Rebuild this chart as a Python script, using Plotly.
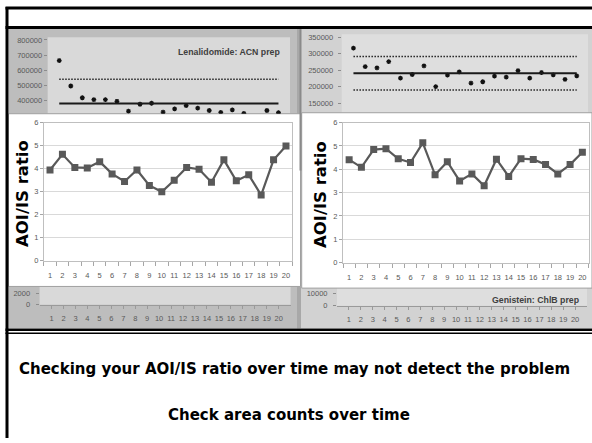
import plotly.graph_objects as go

W, H = 592, 443

# ---------------- data ----------------
RUNS = list(range(1, 21))

LEN_AREA = [663600, 494800, 417000, 404000, 404000, 393500, 328600, 374000, 380500, 322000,
            343500, 365000, 348000, 332500, 319500, 337000, 313000, 280000, 332500, 317500]
LEN_MEAN = 379000
LEN_UPPER = 540000

GEN_AREA = [317000, 261000, 257000, 276000, 226000, 237000, 263000, 200000, 235000, 245000,
            211000, 215000, 232000, 229000, 249000, 226000, 243000, 236000, 222000, 233000]
GEN_MEAN = 241000
GEN_UPPER = 291500
GEN_LOWER = 190000

LEN_RATIO = [3.94, 4.62, 4.05, 4.03, 4.30, 3.77, 3.44, 3.94, 3.27, 2.99,
             3.49, 4.05, 3.97, 3.41, 4.38, 3.47, 3.73, 2.85, 4.38, 4.98]
GEN_RATIO = [4.41, 4.08, 4.84, 4.88, 4.45, 4.29, 5.13, 3.76, 4.32, 3.50,
             3.80, 3.29, 4.43, 3.69, 4.45, 4.42, 4.20, 3.80, 4.20, 4.73]

LEN_TITLE = "Lenalidomide: ACN prep"
GEN_TITLE = "Genistein: ChlB prep"
Y_TITLE = "AOI/IS ratio"
LINE1 = "Checking your AOI/IS ratio over time may not detect the problem"
LINE2 = "Check area counts over time"


# ---------------- helpers ----------------
def px(x):
    return x / W


def py(y):
    return 1 - y / H


def dom_x(a, b):
    return [px(a), px(b)]


def dom_y(top, bottom):
    return [py(bottom), py(top)]


def rect(x0, y0, x1, y1, color, line=None):
    d = dict(type="rect", xref="paper", yref="paper",
             x0=px(x0), x1=px(x1), y0=py(y1), y1=py(y0),
             fillcolor=color, layer="below", line=dict(width=0))
    if line:
        d["line"] = dict(width=1, color=line)
    return d


def hline(x0, x1, y, w, color="black"):
    return dict(type="line", xref="paper", yref="paper", x0=px(x0), x1=px(x1),
                y0=py(y), y1=py(y), line=dict(color=color, width=w), layer="above")


def vline(x, y0, y1, w, color="black"):
    return dict(type="line", xref="paper", yref="paper", x0=px(x), x1=px(x),
                y0=py(y0), y1=py(y1), line=dict(color=color, width=w), layer="above")


TICKFONT = dict(family="Liberation Sans", size=7.5, color="#595959")
AREA_MARKER = dict(symbol="asterisk-open", size=4, color="#111",
                   line=dict(width=1.3, color="#111"))
DOT_LINE = dict(color="#222", width=1.5, dash="1.5px,1.5px")

fig = go.Figure()

# top-left area chart (Lenalidomide)
fig.add_trace(go.Scatter(x=RUNS, y=LEN_AREA, mode="markers", xaxis="x", yaxis="y",
                         marker=AREA_MARKER))
fig.add_trace(go.Scatter(x=[RUNS[0], RUNS[-1]], y=[LEN_MEAN, LEN_MEAN], mode="lines",
                         xaxis="x", yaxis="y", line=dict(color="#1a1a1a", width=2)))
fig.add_trace(go.Scatter(x=[RUNS[0], RUNS[-1]], y=[LEN_UPPER, LEN_UPPER], mode="lines",
                         xaxis="x", yaxis="y", line=DOT_LINE))

# top-right area chart (Genistein)
fig.add_trace(go.Scatter(x=RUNS, y=GEN_AREA, mode="markers", xaxis="x2", yaxis="y2",
                         marker=AREA_MARKER))
fig.add_trace(go.Scatter(x=[RUNS[0], RUNS[-1]], y=[GEN_MEAN, GEN_MEAN], mode="lines",
                         xaxis="x2", yaxis="y2", line=dict(color="#1a1a1a", width=2)))
for v in (GEN_UPPER, GEN_LOWER):
    fig.add_trace(go.Scatter(x=[RUNS[0], RUNS[-1]], y=[v, v], mode="lines",
                             xaxis="x2", yaxis="y2", line=DOT_LINE))

# ratio charts
fig.add_trace(go.Scatter(x=RUNS, y=LEN_RATIO, mode="lines+markers", xaxis="x3", yaxis="y3",
                         line=dict(color="#595959", width=2.2),
                         marker=dict(symbol="square", size=7, color="#595959")))
fig.add_trace(go.Scatter(x=RUNS, y=GEN_RATIO, mode="lines+markers", xaxis="x4", yaxis="y4",
                         line=dict(color="#595959", width=2.2),
                         marker=dict(symbol="square", size=7, color="#595959")))

# bottom strips (no visible data)
fig.add_trace(go.Scatter(x=[], y=[], xaxis="x5", yaxis="y5"))
fig.add_trace(go.Scatter(x=[], y=[], xaxis="x6", yaxis="y6"))

hidden_x = dict(visible=False, range=[0, 21])

ratio_y = dict(range=[0, 6], dtick=1, showgrid=True, gridcolor="#d9d9d9", gridwidth=1,
               zeroline=False, showline=True, linecolor="#bfbfbf", mirror=True,
               ticks="outside", ticklen=3, tickcolor="#a6a6a6", tickfont=TICKFONT)
ratio_x = dict(range=[0.5, 20.5], tickvals=RUNS, showgrid=False, zeroline=False,
               showline=True, linecolor="#bfbfbf", mirror=True,
               ticks="", tickfont=TICKFONT, ticklabelstandoff=7,
               minor=dict(tick0=0.5, dtick=1, ticks="outside", ticklen=4, tickcolor="#a6a6a6"))

area_y = dict(showgrid=False, zeroline=False, ticks="outside", ticklen=3,
              tickcolor="#8c8c8c", tickfont=TICKFONT, tickformat="d", showline=False)

fig.update_layout(
    width=W, height=H, autosize=False,
    margin=dict(l=0, r=0, t=0, b=0),
    paper_bgcolor="white", plot_bgcolor="rgba(0,0,0,0)",
    showlegend=False,
    xaxis=dict(hidden_x, domain=dom_x(47.7, 290), anchor="y"),
    yaxis=dict(area_y, domain=dom_y(36, 112), anchor="x", range=[311039, 804545],
               tick0=0, dtick=100000),
    xaxis2=dict(hidden_x, domain=dom_x(341.7, 588.5), anchor="y2"),
    yaxis2=dict(area_y, domain=dom_y(33, 110.5), anchor="x2", range=[122321, 352976],
                tick0=0, dtick=50000, ticklabelstandoff=3),
    xaxis3=dict(ratio_x, domain=dom_x(43.8, 292.2), anchor="y3"),
    yaxis3=dict(ratio_y, domain=dom_y(121, 262), anchor="x3"),
    xaxis4=dict(ratio_x, domain=dom_x(343, 588.5), anchor="y4"),
    yaxis4=dict(ratio_y, domain=dom_y(121, 264), anchor="x4"),
    xaxis5=dict(domain=dom_x(39.6, 290.6), anchor="y5", range=[0, 21], tickvals=RUNS,
                showgrid=False, zeroline=False, showline=True, linecolor="#9a9a9a",
                ticks="outside", ticklen=3, tickcolor="#9a9a9a", tickfont=TICKFONT,
                ticklabelstandoff=3),
    yaxis5=dict(area_y, domain=dom_y(288.3, 307), anchor="x5", range=[0, 3117],
                tick0=0, dtick=2000, ticklabelstandoff=4),
    xaxis6=dict(domain=dom_x(337, 587), anchor="y6", range=[0, 21], tickvals=RUNS,
                showgrid=False, zeroline=False, showline=True, linecolor="#9a9a9a",
                ticks="outside", ticklen=3, tickcolor="#9a9a9a", tickfont=TICKFONT,
                ticklabelstandoff=3),
    yaxis6=dict(area_y, domain=dom_y(290, 308), anchor="x6", range=[0, 13846],
                tick0=0, dtick=10000, ticklabelstandoff=4),
)

shapes = [
    # background chart panels
    rect(8.5, 25.5, 300, 331, "#bdbdbd"),
    rect(301, 25.5, 592, 331, "#d2d2d2"),
    rect(297, 25.5, 301, 331, "#a8a8a8"),
    rect(47.7, 34, 290, 112, "#d9d9d9"),
    rect(341.7, 31, 588, 111, "#dedede"),
    rect(39.6, 288, 290.6, 307, "#d9d9d9"),
    rect(337, 290, 587, 308, "#dedede"),
    # white ratio chart boxes
    rect(8.5, 112, 300.5, 288.3, "white", line="#a0a0a0"),
    rect(301.7, 111, 592, 290, "white", line="#a0a0a0"),
    # borders
    vline(7, 3, 443, 3),
    hline(5.5, 592, 4, 3),
    hline(5.5, 592, 24, 3),
    hline(5.5, 592, 332.5, 2.5),
    hline(5.5, 592, 336, 1.5),
    vline(300.5, 25.5, 170, 2, "#8a8a8a"),
]
fig.update_layout(shapes=shapes)

ann = [
    dict(text=LEN_TITLE, x=px(282), y=py(49.3), xanchor="right", yanchor="middle",
         font=dict(family="Liberation Sans", size=8.75, color="#404040", weight="bold")),
    dict(text=GEN_TITLE, x=px(581), y=py(302), xanchor="right", yanchor="middle",
         font=dict(family="Liberation Sans", size=8.75, color="#404040", weight="bold")),
    dict(text=Y_TITLE, x=px(22), y=py(194), textangle=-90, xanchor="center", yanchor="middle",
         font=dict(family="DejaVu Sans", size=16.5, color="black", weight="bold")),
    dict(text=Y_TITLE, x=px(320.5), y=py(194.5), textangle=-90, xanchor="center",
         yanchor="middle",
         font=dict(family="DejaVu Sans", size=16.5, color="black", weight="bold")),
    dict(text=LINE1, x=px(294), y=py(373), xanchor="center", yanchor="middle",
         font=dict(family="DejaVu Sans", size=15, color="black", weight="bold")),
    dict(text=LINE2, x=px(289), y=py(420), xanchor="center", yanchor="middle",
         font=dict(family="DejaVu Sans", size=15, color="black", weight="bold")),
]
for a in ann:
    a.update(xref="paper", yref="paper", showarrow=False)
fig.update_layout(annotations=ann)

fig.write_html("out.html", config={"displayModeBar": False},
               post_script="document.body.style.margin='0';document.body.style.overflow='hidden';")
